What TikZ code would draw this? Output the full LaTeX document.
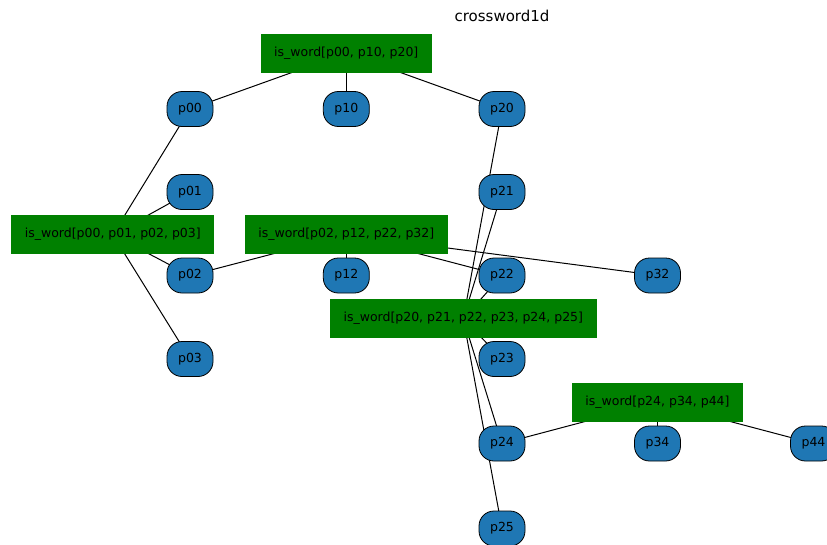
\documentclass[tikz,border=0pt]{standalone}
\usepackage{fontspec}
\setmainfont{DejaVu Sans}
\usetikzlibrary{backgrounds}
\definecolor{varblue}{HTML}{1F77B4}
\definecolor{consgreen}{HTML}{008000}
\tikzset{
  varnode/.style={rectangle, rounded corners=15pt, draw=black, line width=0.8pt, fill=varblue,
    minimum width=46pt, minimum height=35pt, inner sep=0pt, font=\fontsize{12.5}{15}\selectfont},
  consnode/.style={rectangle, fill=consgreen, minimum height=39pt, inner xsep=13.6pt, inner ysep=0pt,
    font=\fontsize{12.5}{15}\selectfont},
  link/.style={draw=black, line width=1pt},
  titletext/.style={font=\fontsize{15}{18}\selectfont, inner sep=0pt}
}
\begin{document}
\begin{tikzpicture}[x=1pt,y=-1pt]
\useasboundingbox (0,0) rectangle (827,544);
\clip (0,0) rectangle (827,544);
\node[titletext] (title) at (502,16) {crossword1d};
% variable nodes
\node[varnode] (p00) at (190,109) {p00};
\node[varnode] (p10) at (346.3,109) {p10};
\node[varnode] (p20) at (502,109) {p20};
\node[varnode] (p01) at (190,192) {p01};
\node[varnode] (p21) at (502,192) {p21};
\node[varnode] (p02) at (190,275.5) {p02};
\node[varnode] (p12) at (346.3,275.5) {p12};
\node[varnode] (p22) at (502,275.5) {p22};
\node[varnode] (p32) at (657.5,275.5) {p32};
\node[varnode] (p03) at (190,359) {p03};
\node[varnode] (p23) at (502,359) {p23};
\node[varnode] (p24) at (502,443.5) {p24};
\node[varnode] (p34) at (657.5,443.5) {p34};
\node[varnode] (p44) at (813.5,443.5) {p44};
\node[varnode] (p25) at (502,528.5) {p25};
% constraint nodes
\node[consnode] (c1) at (346.3,53) {is\_word[p00, p10, p20]};
\node[consnode] (c2) at (112.8,234.7) {is\_word[p00, p01, p02, p03]};
\node[consnode] (c3) at (346.3,234.7) {is\_word[p02, p12, p22, p32]};
\node[consnode] (c4) at (463.3,318.7) {is\_word[p20, p21, p22, p23, p24, p25]};
\node[consnode] (c5) at (657.5,402.3) {is\_word[p24, p34, p44]};
\begin{pgfonlayer}{background}
\foreach \v in {p00,p10,p20} \draw[link] (c1.center) -- (\v.center);
\foreach \v in {p00,p01,p02,p03} \draw[link] (c2.center) -- (\v.center);
\foreach \v in {p02,p12,p22,p32} \draw[link] (c3.center) -- (\v.center);
\foreach \v in {p20,p21,p22,p23,p24,p25} \draw[link] (c4.center) -- (\v.center);
\foreach \v in {p24,p34,p44} \draw[link] (c5.center) -- (\v.center);
\end{pgfonlayer}
\end{tikzpicture}
\end{document}
